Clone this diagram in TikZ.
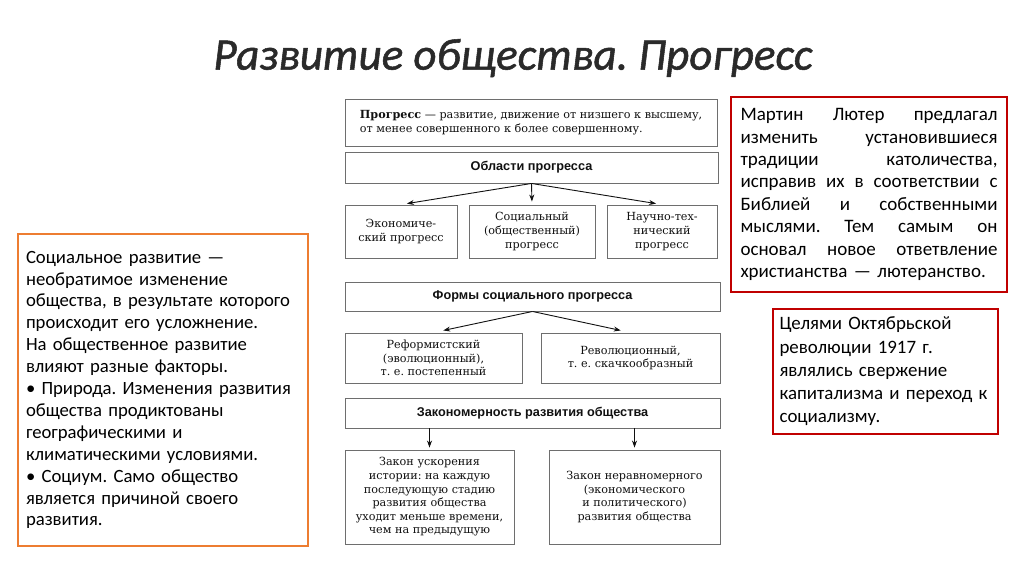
\documentclass[tikz,border=0pt]{standalone}
\usepackage{fontspec}
\setmainfont{Carlito}
\newfontfamily\bookserif{DejaVu Serif}
\newfontfamily\headsans{Liberation Sans}
\newfontfamily\titlefont{Carlito}[ItalicFeatures={FakeBold=1.2}]
\usetikzlibrary{arrows.meta}
\frenchspacing
\definecolor{boxgray}{HTML}{6E6E6E}
\definecolor{ink}{HTML}{111111}
\definecolor{orangeline}{HTML}{ED7D31}
\definecolor{redline}{HTML}{C00000}
\definecolor{titlegray}{HTML}{2A2A2A}
\newcommand\jline[1]{\leavevmode\hbox to 257pt{#1}}
\tikzset{
  gbox/.style={draw=boxgray, line width=0.9pt, fill=white, align=center, inner sep=0pt, text=ink,
    font={\bookserif\fontsize{11.2}{13.6}\selectfont}},
  hbox/.style={gbox, font={\headsans\bfseries\fontsize{12.7}{14}\selectfont}},
  arr/.style={draw=ink, line width=0.9pt, -{Stealth[length=7pt,width=5pt]}},
  sidebox/.style={line width=1.6pt, fill=white, align=left, inner sep=0pt, text=black,
    font={\fontsize{18.7}{21.9}\selectfont}}
}
\begin{document}
\begin{tikzpicture}[x=1pt,y=-1pt]
\useasboundingbox[fill=white] (0,0) rectangle (1024,574);

\node[text=titlegray, font={\titlefont\itshape\fontsize{45}{50}\selectfont}] (title) at (513,58) {Развитие общества. Прогресс};

% central diagram
\node[gbox, minimum width=372pt, minimum height=47pt, align=left] (def) at (531,122.5)
  {\textbf{Прогресс} — развитие, движение от низшего к высшему,\\от менее совершенного к более совершенному.};
\node[hbox, minimum width=373pt, minimum height=31pt] (obl) at (531.5,167.5) {Области прогресса};
\node[gbox, minimum width=112pt, minimum height=53pt] (ek) at (401,231.5) {Экономиче-\\ский прогресс};
\node[gbox, minimum width=126pt, minimum height=53pt] (soc) at (532,231.5) {Социальный\\(общественный)\\прогресс};
\node[gbox, minimum width=110pt, minimum height=53pt] (nt) at (662,231.5) {Научно-тех-\\нический\\прогресс};

\node[hbox, minimum width=375pt, minimum height=29pt] (formy) at (532.5,296.5) {Формы социального прогресса};
\node[gbox, minimum width=177pt, minimum height=50pt] (ref) at (433.5,358) {Реформистский\\(эволюционный),\\т. е. постепенный};
\node[gbox, minimum width=179pt, minimum height=50pt] (rev) at (630.5,358) {Революционный,\\т. е. скачкообразный};

\node[hbox, minimum width=375pt, minimum height=30pt] (zak) at (532.5,413) {Закономерность развития общества};
\node[gbox, minimum width=169pt, minimum height=94pt] (law1) at (429.5,497)
  {Закон ускорения\\истории: на каждую\\последующую стадию\\развития общества\\уходит меньше времени,\\чем на предыдущую};
\node[gbox, minimum width=171pt, minimum height=94pt] (law2) at (634.5,497)
  {Закон неравномерного\\(экономического\\и политического)\\развития общества};

\draw[arr, shorten >=6pt] (obl.south) -- (ek.north);
\draw[arr, shorten >=3pt] (obl.south) -- (soc.north);
\draw[arr, shorten >=6pt] (obl.south) -- (nt.north);
\draw[arr, shorten >=10pt] (formy.south) -- (ref.north);
\draw[arr, shorten >=10pt] (formy.south) -- (rev.north);
\draw[arr, shorten >=2pt] (law1.north |- zak.south) -- (law1.north);
\draw[arr, shorten >=2pt] (law2.north |- zak.south) -- (law2.north);

% side boxes
\node[sidebox, draw=orangeline, minimum width=290pt, minimum height=312pt, text width=274pt] (left) at (163,390)
  {Социальное развитие —\\необратимое изменение\\общества, в результате которого\\происходит его усложнение.\\На общественное развитие\\влияют разные факторы.\\• Природа. Изменения развития\\общества продиктованы\\географическими и\\климатическими условиями.\\• Социум. Само общество\\является причиной своего\\развития.};

\node[sidebox, draw=redline, minimum width=276pt, minimum height=195pt, text width=257pt, font={\fontsize{19}{22.4}\selectfont}] (luther) at (869,194.5)
  {\jline{Мартин\hfill Лютер\hfill предлагал}\\\jline{изменить\hfill установившиеся}\\\jline{традиции\hfill католичества,}\\\jline{исправив\hfill их\hfill в\hfill соответствии\hfill с}\\\jline{Библией\hfill и\hfill собственными}\\\jline{мыслями.\hfill Тем\hfill самым\hfill он}\\\jline{основал\hfill новое\hfill ответвление}\\христианства — лютеранство.};

\node[sidebox, draw=redline, line width=1.2pt, minimum width=225pt, minimum height=125pt, text width=212pt, font={\fontsize{18.9}{23.3}\selectfont}] (goal) at (885.5,371.5)
  {Целями Октябрьской\\революции 1917 г.\\являлись свержение\\капитализма и переход к\\социализму.};
\end{tikzpicture}
\end{document}
